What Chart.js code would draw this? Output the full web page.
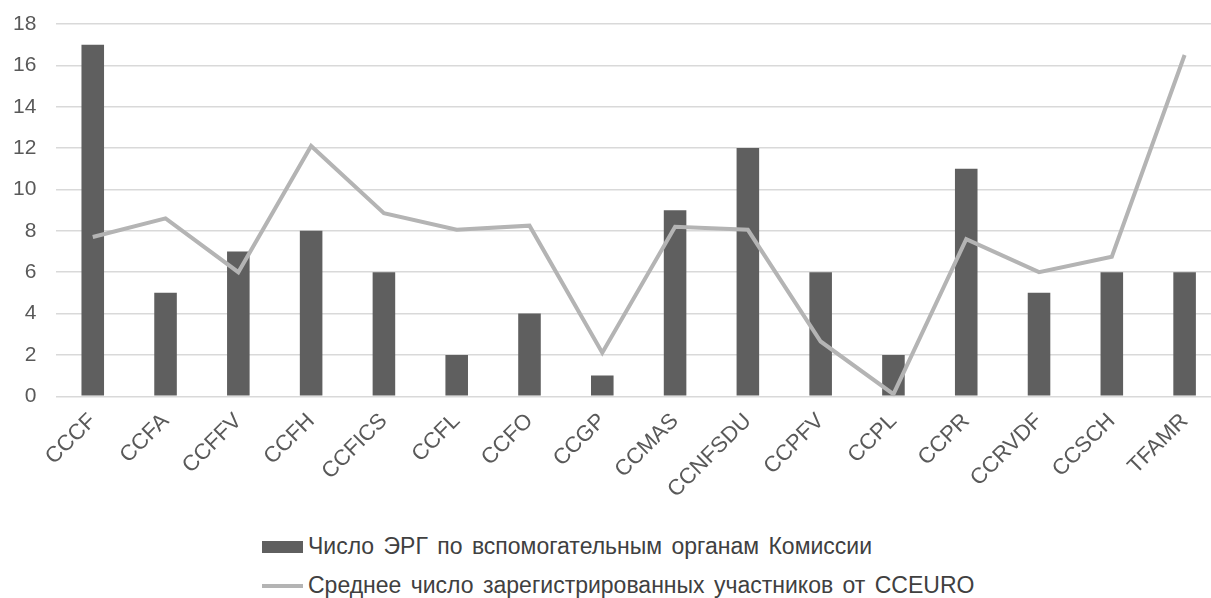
<!DOCTYPE html>
<html>
<head>
<meta charset="utf-8">
<script src="https://cdn.jsdelivr.net/npm/chart.js@4"></script>
<style>
	html, body { margin: 0; padding: 0; background: #fff; overflow: hidden; }
	#wrap { position: relative; width: 1211px; height: 598px; overflow: hidden; }
	/* canvas is shifted/widened so the plot runs off the right edge like the original crop */
	#chart { position: absolute; left: -19px; top: 0; }
	#legend { position: absolute; left: 262px; top: 527px; font-family: "Liberation Sans", Arial, sans-serif; font-size: 23px; word-spacing: 3px; color: #404040; }
	.item { display: flex; align-items: center; height: 39px; white-space: nowrap; }
	.box { width: 41px; height: 12px; background: #5f5f5f; margin-right: 5px; }
	.ln { width: 41px; height: 4px; background: #b4b4b4; margin-right: 5px; }
</style>
</head>
<body>
<div id="wrap">
	<canvas id="chart" width="1240" height="507"></canvas>
	<div id="legend"></div>
</div>
<script>
const labels = ["CCCF", "CCFA", "CCFFV", "CCFH", "CCFICS", "CCFL", "CCFO", "CCGP", "CCMAS", "CCNFSDU", "CCPFV", "CCPL", "CCPR", "CCRVDF", "CCSCH", "TFAMR"];
const ergCount = [17, 5, 7, 8, 6, 2, 4, 1, 9, 12, 6, 2, 11, 5, 6, 6];
const avgParticipants = [7.7, 8.6, 6.0, 12.1, 8.85, 8.05, 8.25, 2.1, 8.2, 8.05, 2.65, 0.1, 7.6, 6.0, 6.75, 16.5];
const yTicks = [0, 2, 4, 6, 8, 10, 12, 14, 16, 18];
const barName = "Число ЭРГ по вспомогательным органам Комиссии";
const lineName = "Среднее число зарегистрированных участников от CCEURO";

let ctx = document.getElementById("chart");
let chart = new Chart(ctx, {
	data: {
		labels: labels,
		datasets: [
			{
				type: "line",
				label: lineName,
				data: avgParticipants,
				borderColor: "#b4b4b4",
				borderWidth: 4,
				pointRadius: 0,
				tension: 0,
				order: 0
			},
			{
				type: "bar",
				label: barName,
				data: ergCount,
				backgroundColor: "#5f5f5f",
				categoryPercentage: 0.62,
				barPercentage: 0.5,
				order: 1
			}
		]
	},
	options: {
		responsive: false,
		animation: false,
		layout: { padding: { top: 24, right: 0, left: 12, bottom: 0 } },
		plugins: {
			legend: { display: false },
			tooltip: { enabled: false }
		},
		scales: {
			x: {
				grid: { display: false },
				border: { display: false },
				ticks: {
					color: "#595959",
					font: { family: "Liberation Sans", size: 22 },
					minRotation: 45,
					maxRotation: 45,
					padding: 4
				}
			},
			y: {
				min: 0,
				max: 18,
				afterBuildTicks: (axis) => {
					axis.ticks = yTicks.map(v => ({ value: v }));
				},
				afterFit: (axis) => {
					axis.paddingTop = 0;
					axis.paddingBottom = 0;
				},
				grid: { color: "#d9d9d9", lineWidth: 1.5, drawTicks: false },
				border: { display: false },
				ticks: {
					color: "#595959",
					font: { family: "Liberation Sans", size: 21 },
					padding: 20
				}
			}
		}
	}
});

// legend below the chart, one item per row like the original
let legend = document.getElementById("legend");
[{ name: barName, cls: "box" }, { name: lineName, cls: "ln" }].forEach((e) => {
	let row = document.createElement("div");
	row.className = "item";
	let mark = document.createElement("span");
	mark.className = e.cls;
	let txt = document.createElement("span");
	txt.innerText = e.name;
	row.appendChild(mark);
	row.appendChild(txt);
	legend.appendChild(row);
});
</script>
</body>
</html>
